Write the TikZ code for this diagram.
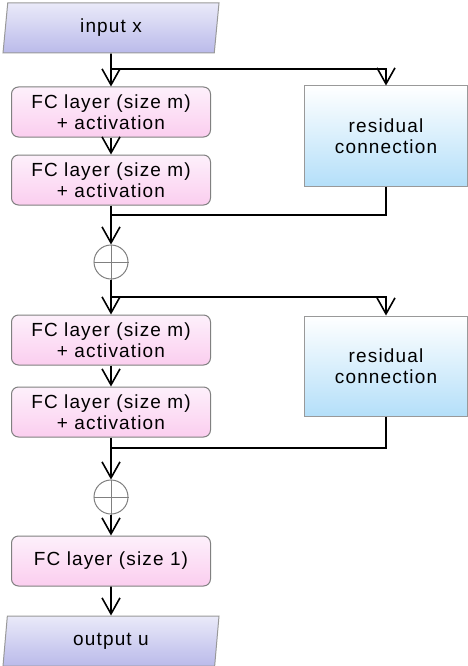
\documentclass[tikz,border=0pt]{standalone}
\usepackage{fontspec}
\setmainfont{Liberation Sans}[LetterSpace=6]
\usepackage{xcolor}
\usepackage{tikz}
\usetikzlibrary{arrows.meta, shapes.geometric}

\definecolor{ioTop}{RGB}{234,234,249}
\definecolor{ioBot}{RGB}{186,186,234}
\definecolor{fcTop}{RGB}{253,240,251}
\definecolor{fcBot}{RGB}{251,206,239}
\definecolor{resBot}{RGB}{180,223,249}

\begin{document}
\begin{tikzpicture}[x=1pt, y=-1pt,
  font=\fontsize{19}{21}\selectfont,
  arrow/.style={-{Straight Barb[length=16pt, width=18pt]}, line width=1.6pt},
  link/.style={line width=1.6pt},
  io_block/.style={draw=gray!80, line width=1pt, trapezium, trapezium left angle=75, trapezium right angle=105, trapezium stretches body, minimum width=216pt, minimum height=50pt, inner sep=0pt, top color=ioTop, bottom color=ioBot},
  fc_block/.style={draw=gray, line width=1pt, rectangle, rounded corners=7pt, minimum width=199pt, minimum height=50pt, align=center, top color=fcTop, bottom color=fcBot},
  res_block/.style={draw=gray!80, line width=1pt, rectangle, minimum width=163pt, minimum height=100pt, align=center, top color=white, bottom color=resBot},
  sum_node/.style={draw=gray, line width=1pt, circle, minimum size=34pt, inner sep=0pt, fill=white}
]
  \useasboundingbox (0,0) rectangle (468,666);

  % Main column
  \node (input) [io_block] at (111, 28) {input x};
  \node (fc1) [fc_block] at (111, 112) {FC layer (size m) \\ + activation};
  \node (fc2) [fc_block] at (111, 180) {FC layer (size m) \\ + activation};
  \node (sum1) [sum_node] at (111, 262) {};
  \node (fc3) [fc_block] at (111, 340) {FC layer (size m) \\ + activation};
  \node (fc4) [fc_block] at (111, 412) {FC layer (size m) \\ + activation};
  \node (sum2) [sum_node] at (111, 497) {};
  \node (fc5) [fc_block] at (111, 561) {FC layer (size 1)};
  \node (output) [io_block] at (111, 641) {output u};

  % Residual branches
  \node (res1) [res_block] at (386, 136) {residual \\ connection};
  \node (res2) [res_block] at (386, 366) {residual \\ connection};

  % Branch and merge points
  \coordinate (split1) at (111, 69);
  \coordinate (merge1) at (111, 215);
  \coordinate (split2) at (111, 297);
  \coordinate (merge2) at (111, 448);

  % Plus signs
  \draw[gray, line width=1pt] (sum1.north) -- (sum1.south) (sum1.west) -- (sum1.east);
  \draw[gray, line width=1pt] (sum2.north) -- (sum2.south) (sum2.west) -- (sum2.east);

  % Arrows
  \draw[arrow] (input.south) -- (fc1.north);
  \draw[arrow] (split1) -| (res1.north);
  \draw[arrow] (fc1.south) -- (fc2.north);
  \draw[arrow] (fc2.south) -- (sum1.north);
  \draw[link] (res1.south) |- (merge1);
  \draw[arrow] (sum1.south) -- (fc3.north);
  \draw[arrow] (split2) -| (res2.north);
  \draw[arrow] (fc3.south) -- (fc4.north);
  \draw[arrow] (fc4.south) -- (sum2.north);
  \draw[link] (res2.south) |- (merge2);
  \draw[arrow] (sum2.south) -- (fc5.north);
  \draw[arrow] (fc5.south) -- (output.north);

\end{tikzpicture}
\end{document}
